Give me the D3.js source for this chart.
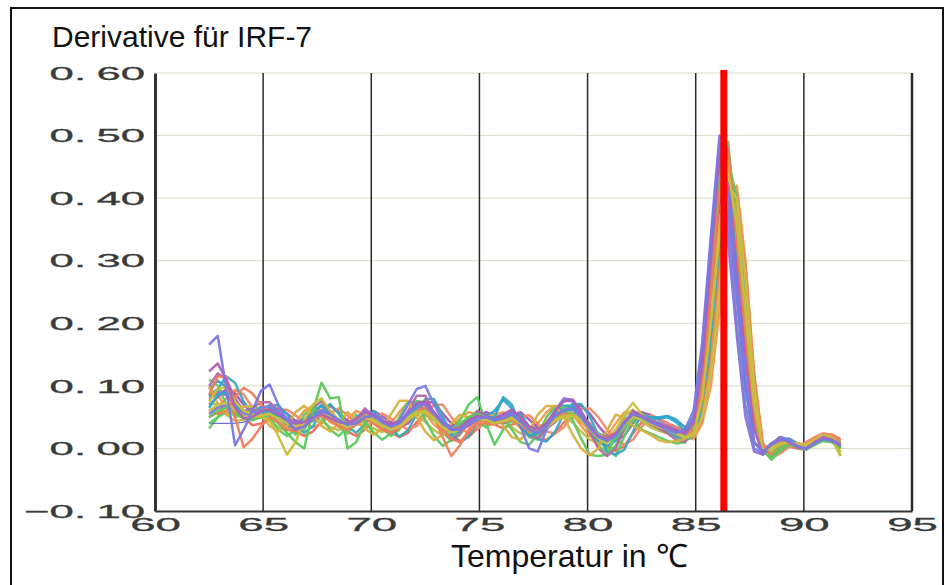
<!DOCTYPE html>
<html>
<head>
<meta charset="utf-8">
<title>Derivative für IRF-7</title>
<script src="https://cdn.jsdelivr.net/npm/d3@7"></script>
<style>
  body { margin: 0; background: #fff; }
  svg { display: block; }
</style>
</head>
<body>
<div id="chart"></div>
<script>
// Temperatures of the melt curve readings (°C)
const temps = [62.5, 62.9, 63.3, 63.7, 64.1, 64.5, 64.9, 65.3, 65.7, 66.1,
  66.5, 66.9, 67.3, 67.7, 68.1, 68.5, 68.9, 69.3, 69.7, 70.1,
  70.5, 70.9, 71.3, 71.7, 72.1, 72.5, 72.9, 73.3, 73.7, 74.1,
  74.5, 74.9, 75.3, 75.7, 76.1, 76.5, 76.9, 77.3, 77.7, 78.1,
  78.5, 78.9, 79.3, 79.7, 80.1, 80.5, 80.9, 81.3, 81.7, 82.1,
  82.5, 82.9, 83.3, 83.7, 84.1, 84.5,
  84.9, 85.3, 85.7, 86.1, 86.5, 86.9, 87.3, 87.7, 88.1,
  88.5, 88.9, 89.3, 89.7, 90.1, 90.5, 90.9, 91.3, 91.7];

// Derivative values, one array per well
const wellB1 = [.166,.180,.095,.005,.030,.060,.092,.102,.070,.045,
  .030,.035,.048,.060,.055,.045,.038,.040,.050,.052,
  .042,.035,.040,.055,.068,.070,.055,.040,.030,.030,
  .040,.048,.050,.045,.048,.055,.042,.030,.025,.035,
  .052,.062,.064,.050,.032,.018,.012,.020,.040,.055,
  .050,.042,.036,.030,.025,.030,
  .060,.170,.340,.500,.400,.250,.110,.010,-.005,
  .006,.016,.012,.004,.000,.008,.015,.012,.004];
const wellM1 = [.123,.136,.110,.065,.048,.050,.060,.062,.055,.045,
  .040,.042,.050,.055,.048,.042,.040,.046,.058,.052,
  .045,.038,.042,.055,.072,.075,.058,.040,.030,.034,
  .044,.052,.050,.046,.055,.062,.050,.035,.030,.040,
  .060,.075,.078,.060,.035,.020,.016,.024,.042,.058,
  .052,.044,.038,.034,.028,.025,
  .040,.130,.300,.470,.420,.280,.140,.030,-.008,
  .008,.018,.010,.002,.000,.010,.018,.014,.006];
const wellR1 = [.085,.115,.115,.050,.002,.015,.035,.050,.042,.030,
  .028,.035,.048,.052,.045,.035,.030,.038,.048,.040,
  .030,.025,.032,.045,.060,.066,.050,.030,.015,.010,
  .025,.040,.040,.038,.045,.048,.038,.028,.030,.040,
  .052,.056,.052,.042,.030,.022,.018,.025,.040,.052,
  .050,.045,.040,.035,.030,.022,
  .030,.100,.250,.410,.480,.330,.180,.050,.000,
  .004,.010,.008,.004,.006,.015,.022,.018,.008];
const wellR2 = [.060,.055,.060,.082,.097,.088,.070,.060,.052,.042,
  .035,.040,.055,.062,.052,.040,.032,.040,.055,.050,
  .040,.032,.036,.050,.066,.072,.050,.018,-.012,.005,
  .030,.045,.044,.040,.042,.046,.038,.030,.028,.034,
  .046,.054,.056,.046,.032,.020,.014,.018,.034,.050,
  .048,.042,.038,.034,.030,.022,
  .020,.050,.140,.280,.420,.400,.280,.110,.005,
  -.012,.002,.010,.008,.004,.012,.020,.022,.015];
const wellG1 = [.050,.060,.065,.058,.050,.048,.050,.052,.040,.025,
  .010,.000,.060,.105,.080,.082,.000,.010,.040,.050,
  .042,.035,.040,.052,.060,.058,.045,.035,.030,.040,
  .050,.055,.050,.042,.046,.050,.040,.030,.028,.035,
  .048,.055,.056,.046,.030,.018,.010,.016,.034,.050,
  .046,.040,.036,.032,.028,.025,
  .035,.110,.270,.430,.490,.340,.190,.050,-.005,
  -.015,.000,.008,.004,.000,.006,.012,.010,.000];
const wellY1 = [.075,.095,.098,.075,.060,.055,.050,.045,.020,-.010,
  .010,.045,.070,.080,.060,.045,.040,.046,.056,.048,
  .040,.034,.038,.050,.058,.060,.048,.036,.030,.034,
  .042,.048,.046,.040,.044,.048,.040,.032,.030,.036,
  .046,.052,.054,.046,.034,.022,.016,.022,.038,.050,
  .046,.040,.036,.030,.025,.018,
  .025,.080,.200,.340,.440,.360,.220,.070,-.002,
  .002,.008,.010,.006,.004,.010,.020,.016,-.012];
const wellB2 = [.055,.065,.070,.062,.055,.058,.065,.068,.060,.048,
  .040,.042,.050,.056,.050,.042,.038,.044,.055,.050,
  .040,.035,.045,.070,.095,.100,.070,.045,.030,.030,
  .038,.045,.048,.045,.050,.060,.035,.000,-.005,.030,
  .060,.078,.075,.055,.035,.022,.016,.022,.040,.054,
  .050,.044,.040,.034,.030,.020,
  .045,.150,.320,.490,.360,.200,.070,.000,-.008,
  .004,.014,.012,.006,.002,.010,.016,.012,.004];
const wellR3 = [.050,.058,.072,.066,.050,.037,.040,.048,.048,.040,
  .027,.020,.027,.043,.052,.042,.027,.020,.030,.043,
  .036,.026,.018,.025,.042,.058,.058,.040,.022,.012,
  .018,.032,.042,.038,.032,.038,.042,.030,.016,.014,
  .024,.042,.052,.052,.040,.020,.004,-.004,.004,.024,
  .042,.038,.030,.024,.020,.014,
  .022,.070,.190,.340,.450,.380,.230,.080,.000,
  -.010,-.004,.004,.000,-.002,.006,.014,.010,.002];
const wellG2 = [.040,.050,.058,.055,.048,.045,.050,.054,.048,.038,
  .032,.036,.046,.052,.046,.038,.034,.040,.050,.046,
  .038,.032,.036,.046,.056,.058,.046,.034,.028,.045,
  .070,.082,.040,.006,.030,.045,.038,.030,.026,.034,
  .046,.054,.054,.044,.030,.012,.000,-.012,.020,.048,
  .046,.040,.036,.032,.026,.018,
  .025,.070,.200,.350,.460,.400,.250,.090,.000,
  -.018,-.004,.006,.002,-.002,.006,.014,.012,.004];
const wellT1 = [.065,.085,.090,.070,.052,.050,.058,.060,.052,.044,
  .040,.044,.054,.060,.052,.042,.036,.044,.056,.050,
  .040,.034,.040,.054,.064,.064,.050,.036,.028,.030,
  .040,.048,.046,.050,.082,.070,.035,.020,.025,.034,
  .050,.060,.062,.052,.036,.024,.018,.024,.040,.052,
  .050,.046,.048,.050,.042,.028,
  .045,.140,.310,.460,.400,.250,.100,.010,-.004,
  .006,.018,.014,.006,.002,.010,.018,.016,.008];
const wellY2 = [.060,.070,.072,.062,.052,.050,.052,.055,.048,.040,
  .036,.040,.050,.056,.050,.040,.034,.040,.050,.044,
  .036,.030,.034,.046,.056,.058,.046,.034,.026,.030,
  .040,.048,.046,.040,.044,.048,.040,.030,.028,.034,
  .044,.050,.052,.044,.030,.016,.008,.025,.055,.073,
  .055,.040,.034,.030,.025,.018,
  .020,.050,.120,.250,.420,.400,.270,.100,-.004,
  .000,.006,.010,.008,.006,.014,.022,.018,.006];
const wellP1 = [.078,.090,.085,.068,.055,.055,.060,.060,.054,.046,
  .042,.046,.056,.060,.054,.046,.040,.048,.060,.055,
  .046,.038,.042,.056,.070,.072,.058,.042,.034,.036,
  .046,.054,.052,.048,.054,.060,.046,.034,.030,.040,
  .060,.080,.078,.058,.036,.022,.018,.024,.042,.056,
  .052,.046,.040,.036,.030,.024,
  .050,.160,.330,.480,.330,.180,.050,-.005,-.010,
  .002,.014,.016,.008,.000,.008,.016,.014,.006];
const wellT2 = [.082,.094,.088,.070,.058,.060,.066,.066,.058,.046,
  .040,.046,.060,.068,.058,.046,.040,.048,.060,.053,
  .044,.036,.042,.058,.072,.072,.056,.040,.030,.036,
  .048,.058,.054,.048,.054,.058,.046,.034,.032,.041,
  .058,.068,.068,.056,.038,.022,.015,.022,.041,.058,
  .054,.046,.041,.036,.030,.022,
  .030,.110,.260,.420,.470,.330,.180,.050,-.002,
  .008,.016,.010,.002,-.002,.008,.016,.014,.006];
const wellO1 = [.090,.085,.065,.052,.056,.064,.064,.055,.042,.034,
  .042,.060,.068,.058,.042,.036,.046,.060,.054,.040,
  .032,.040,.058,.074,.074,.056,.038,.028,.034,.048,
  .058,.054,.048,.054,.058,.046,.032,.028,.040,.058,
  .068,.068,.056,.036,.020,.012,.020,.040,.058,.054,
  .046,.040,.036,.030,.024,.018,
  .015,.040,.100,.220,.400,.420,.300,.120,.004,
  -.006,.004,.012,.008,.006,.014,.024,.020,.012];
const wellG3 = [.032,.050,.070,.062,.050,.056,.066,.066,.053,.034,
  .022,.030,.056,.070,.055,.034,.024,.040,.060,.048,
  .032,.020,.030,.056,.076,.074,.050,.026,.012,.022,
  .040,.056,.050,.038,.048,.056,.036,.018,.014,.030,
  .055,.068,.068,.050,.024,.004,-.006,.004,.030,.054,
  .050,.040,.034,.030,.026,.020,
  .030,.100,.250,.410,.470,.340,.190,.060,.000,
  .004,.014,.010,.004,.000,.006,.014,.012,.002];
const wellB3 = [.040,.040,.040,.040,.042,.048,.054,.056,.052,.044,
  .038,.040,.048,.052,.048,.040,.036,.040,.048,.046,
  .040,.034,.036,.046,.056,.058,.046,.034,.028,.032,
  .040,.046,.044,.040,.044,.048,.040,.030,.026,.032,
  .044,.052,.054,.046,.032,.020,.014,.020,.034,.048,
  .046,.040,.036,.032,.028,.022,
  .028,.090,.240,.390,.450,.340,.200,.060,.000,
  .004,.012,.010,.004,.002,.008,.016,.012,.004];
const wellT3 = [.095,.108,.098,.070,.054,.058,.066,.066,.054,.038,
  .030,.038,.058,.068,.054,.038,.030,.042,.058,.048,
  .036,.026,.034,.054,.074,.074,.052,.032,.020,.028,
  .044,.056,.050,.060,.078,.064,.040,.024,.022,.034,
  .056,.068,.068,.052,.030,.012,.004,.012,.036,.056,
  .054,.050,.050,.052,.046,.034,
  .040,.120,.280,.450,.440,.300,.160,.040,-.006,
  .006,.018,.012,.004,.000,.010,.018,.016,.010];
const wellM2 = [.070,.082,.095,.088,.070,.056,.058,.064,.064,.056,
  .044,.038,.044,.060,.068,.058,.044,.038,.046,.060,
  .052,.042,.034,.040,.058,.074,.074,.056,.040,.030,
  .036,.048,.058,.054,.048,.054,.058,.046,.034,.032,
  .042,.058,.068,.068,.056,.036,.020,.014,.020,.040,
  .058,.054,.046,.040,.034,.028,
  .030,.090,.230,.390,.460,.330,.180,.040,-.010,
  .004,.018,.014,.006,.000,.008,.016,.014,.006];
const wellY3 = [.074,.069,.054,.044,.046,.051,.051,.044,.034,.029,
  .034,.046,.052,.044,.034,.029,.036,.046,.040,.032,
  .026,.031,.044,.056,.056,.042,.029,.021,.026,.036,
  .044,.041,.036,.041,.044,.034,.024,.022,.030,.044,
  .052,.052,.042,.027,.014,.008,.014,.030,.052,.062,
  .044,.034,.028,.024,.018,.016,
  .022,.060,.160,.300,.430,.390,.250,.090,.000,
  -.004,.006,.012,.008,.004,.012,.020,.014,-.012];
const wellR4 = [.060,.066,.080,.094,.086,.066,.053,.056,.062,.062,
  .053,.040,.034,.040,.056,.064,.053,.040,.034,.043,
  .056,.048,.038,.030,.036,.053,.070,.070,.050,.034,
  .024,.030,.043,.053,.050,.043,.050,.053,.040,.027,
  .024,.034,.053,.064,.064,.050,.030,.014,.006,.014,
  .034,.053,.048,.040,.034,.028,
  .018,.045,.120,.250,.410,.410,.290,.120,.010,
  -.016,-.008,.002,.004,.010,.018,.024,.022,.014];
const wellT4 = [.085,.095,.115,.105,.075,.055,.059,.069,.069,.055,
  .035,.025,.035,.059,.071,.055,.035,.025,.039,.059,
  .047,.031,.019,.029,.055,.079,.079,.051,.025,.009,
  .019,.039,.055,.049,.039,.049,.055,.035,.015,.011,
  .027,.055,.071,.071,.051,.021,-.005,-.010,-.002,.027,
  .055,.049,.035,.027,.019,.012,
  .020,.060,.170,.320,.440,.390,.240,.080,-.004,
  .002,.012,.010,.004,.002,.010,.018,.016,.004];
const wellM3 = [.100,.120,.110,.080,.060,.064,.074,.074,.060,.040,
  .030,.040,.064,.076,.060,.040,.030,.044,.064,.052,
  .036,.024,.034,.060,.084,.084,.056,.030,.014,.024,
  .044,.060,.054,.044,.054,.060,.040,.020,.016,.032,
  .060,.076,.076,.056,.026,.000,-.012,.000,.032,.060,
  .054,.040,.032,.024,.014,.010,
  .040,.140,.310,.470,.390,.240,.100,.010,-.006,
  .006,.016,.012,.004,.000,.008,.016,.014,.004];
const wellG4 = [.110,.100,.070,.050,.054,.064,.064,.050,.030,.020,
  .030,.054,.066,.050,.030,.020,.034,.054,.042,.026,
  .014,.024,.050,.074,.074,.046,.020,.004,.014,.034,
  .050,.044,.034,.044,.050,.030,.010,.006,.022,.050,
  .066,.066,.046,.016,-.010,-.012,-.010,.022,.050,.044,
  .030,.024,.018,.012,.008,.010,
  .030,.100,.260,.420,.480,.340,.190,.050,-.008,
  -.010,.004,.010,.006,.000,.006,.014,.012,.000];
const wellY4 = [.099,.072,.054,.058,.067,.067,.054,.036,.027,.036,
  .058,.068,.054,.036,.027,.040,.058,.047,.032,.022,
  .031,.054,.076,.076,.050,.027,.013,.022,.040,.054,
  .049,.040,.049,.054,.036,.018,.014,.029,.054,.068,
  .068,.050,.023,.000,-.011,.000,.029,.054,.049,.036,
  .029,.022,.013,.010,.012,.015,
  .025,.080,.210,.360,.450,.370,.220,.070,-.004,
  .000,.008,.012,.008,.004,.012,.020,.016,-.006];

// Axis ticks and the marked melting temperature
const yTicks = [-0.1, 0.0, 0.1, 0.2, 0.3, 0.4, 0.5, 0.6];
const xTicks = [60, 65, 70, 75, 80, 85, 90, 95];
const meltPeak = 86.3;

// Drawing order (last on top) and colours
const wells = [wellR3, wellG3, wellB3, wellO1, wellT2, wellM2, wellR4, wellG2, wellT3, wellY3,
  wellT4, wellG4, wellM3, wellY4,
  wellR2, wellP1, wellT1, wellG1, wellR1, wellB2, wellY2, wellY1, wellM1, wellB1];
const wellColors = ["#ee6e58", "#66c85e", "#6c6cd8", "#f29a4a", "#36b0bc", "#a858b0", "#f4886a", "#58cc60", "#30a4cc", "#bcc048",
  "#3aa8c0", "#60c860", "#b468a8", "#d8b040",
  "#f0805a", "#9070d8", "#2ea6c8", "#5cc85a", "#f27a5c", "#7c7ce2", "#c6c244", "#c8be3c", "#b060b8", "#7a78e4"];

const width = 946, height = 585;
const svg = d3.select("#chart").append("svg")
  .attr("width", width)
  .attr("height", height);

const x = d3.scaleLinear().domain([60, 95]).range([155, 912]);
const y = d3.scaleLinear().domain([-0.1, 0.6]).range([511, 73]);

// outer frame
svg.append("rect")
  .attr("x", 11).attr("y", 8)
  .attr("width", 932).attr("height", 600)
  .attr("fill", "none")
  .attr("stroke", "#111")
  .attr("stroke-width", 2);

// horizontal grid (light)
svg.append("g").selectAll("line")
  .data(yTicks.filter(d => d > -0.1))
  .join("line")
  .attr("x1", x(60)).attr("x2", x(95))
  .attr("y1", d => y(d)).attr("y2", d => y(d))
  .attr("stroke", "#dcdacb")
  .attr("stroke-width", 1);

// vertical grid (dark)
svg.append("g").selectAll("line")
  .data(xTicks.filter(d => d > 60))
  .join("line")
  .attr("x1", d => x(d)).attr("x2", d => x(d))
  .attr("y1", y(0.6)).attr("y2", y(-0.1))
  .attr("stroke", "#2a2a2a")
  .attr("stroke-width", d => d === 95 ? 2.5 : 1.5);

// curves
const line = d3.line()
  .x((d, i) => x(temps[i]))
  .y(d => y(d));

svg.append("g").selectAll("path")
  .data(wells)
  .join("path")
  .attr("d", line)
  .attr("fill", "none")
  .attr("stroke", (d, i) => wellColors[i])
  .attr("stroke-width", (d, i) => i === 2 ? 1.3 : 2.5)
  .attr("stroke-linejoin", "round")
  .attr("opacity", 0.95);

// red marker line
svg.append("line")
  .attr("x1", x(meltPeak)).attr("x2", x(meltPeak))
  .attr("y1", y(0.6) - 3).attr("y2", y(-0.1))
  .attr("stroke", "#ff0000")
  .attr("stroke-width", 7);

// axes - the tick labels are a widely stretched sans
const fmt = d3.format(".2f");
const ySx = 2.3, xSx = 2.4;

const yAxis = d3.axisLeft(y).tickValues(yTicks).tickFormat(fmt).tickSize(0).tickPadding(10);
const gy = svg.append("g")
  .attr("transform", `translate(${x(60)},0)`)
  .call(yAxis);
gy.select(".domain").attr("stroke", "#333").attr("stroke-width", 3);
gy.selectAll("text")
  .attr("font-family", "Liberation Sans, Arial, sans-serif")
  .attr("font-size", 19)
  .attr("fill", "#3a3a3a")
  .attr("stroke", "#3a3a3a")
  .attr("stroke-width", 0.3)
  .attr("transform", `scale(${ySx},1)`)
  .attr("x", -10 / ySx)
  .attr("dy", "0.33em")
  .each(function(d) {
    const s = fmt(d);
    const cut = s.indexOf(".") + 1;
    const t = d3.select(this).text(null);
    t.append("tspan").text(s.slice(0, cut));
    t.append("tspan").attr("dx", 4.5).text(s.slice(cut));
  });

const xAxis = d3.axisBottom(x).tickValues(xTicks).tickSize(0).tickPadding(7);
const gx = svg.append("g")
  .attr("transform", `translate(0,${y(-0.1)})`)
  .call(xAxis);
gx.select(".domain").attr("stroke", "#333").attr("stroke-width", 2);
gx.selectAll("text")
  .attr("font-family", "Liberation Sans, Arial, sans-serif")
  .attr("font-size", 19)
  .attr("fill", "#3a3a3a")
  .attr("stroke", "#3a3a3a")
  .attr("stroke-width", 0.3)
  .attr("transform", `scale(${xSx},1)`);

// titles
svg.append("text")
  .attr("x", 52).attr("y", 47)
  .attr("font-family", "Liberation Sans, Arial, sans-serif")
  .attr("font-size", 30)
  .attr("fill", "#111")
  .text("Derivative für IRF-7");

svg.append("text")
  .attr("x", 451).attr("y", 567)
  .attr("font-family", "Liberation Sans, Arial, sans-serif")
  .attr("font-size", 32)
  .attr("fill", "#111")
  .text("Temperatur in ℃");
</script>
</body>
</html>
